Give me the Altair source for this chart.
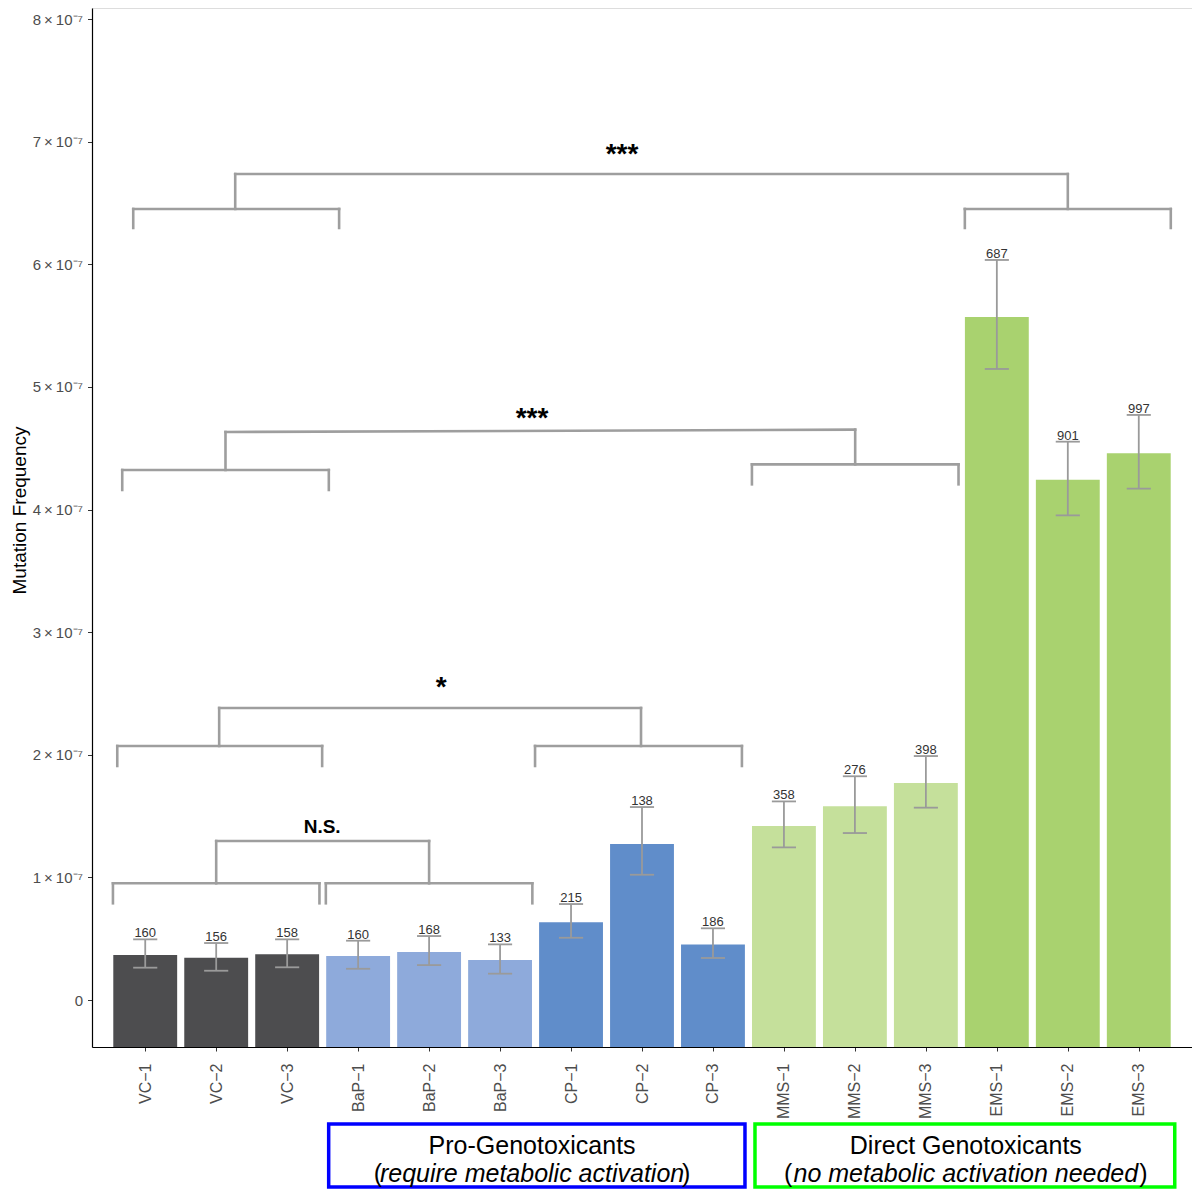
import altair as alt
import pandas as pd

# ---------------- data (mutation frequency in units of 1e-7) ----------------
labels = ["VC−1", "VC−2", "VC−3", "BaP−1", "BaP−2", "BaP−3", "CP−1", "CP−2", "CP−3",
          "MMS−1", "MMS−2", "MMS−3", "EMS−1", "EMS−2", "EMS−3"]
groups = ["VC"] * 3 + ["BaP"] * 3 + ["CP"] * 3 + ["MMS"] * 3 + ["EMS"] * 3
freq = [0.367, 0.345, 0.373, 0.359, 0.392, 0.326, 0.634, 1.272, 0.454,
        1.419, 1.580, 1.770, 5.571, 4.244, 4.459]
err_hi = [0.495, 0.465, 0.495, 0.484, 0.522, 0.454, 0.783, 1.574, 0.585,
          1.620, 1.825, 1.990, 6.036, 4.554, 4.772]
err_lo = [0.264, 0.239, 0.267, 0.255, 0.285, 0.215, 0.508, 1.022, 0.343,
          1.245, 1.362, 1.569, 5.147, 3.953, 4.171]
counts = [160, 156, 158, 160, 168, 133, 215, 138, 186, 358, 276, 398, 687, 901, 997]

group_order = ["VC", "BaP", "CP", "MMS", "EMS"]
group_colors = ["#4d4d4f", "#8eaadb", "#608dca", "#c5e09b", "#a9d26f"]

y_ticks = [0, 1, 2, 3, 4, 5, 6, 7, 8]

# significance brackets: label, label x, label baseline y, font size,
# left arm (x1, x2, stem x, bar y, leg y, top y), right arm (same)
comparisons = [
    ("N.S.", 3.493, 1.362, 19, (0.545, 3.455, 2.000, 0.952, 0.789, 1.297),
     (3.545, 6.455, 5.000, 0.952, 0.789, 1.297)),
    ("*", 5.169, 2.480, 28, (0.606, 3.493, 2.042, 2.072, 1.909, 2.382),
     (6.493, 9.408, 7.986, 2.072, 1.909, 2.382)),
    ("***", 6.451, 4.673, 28, (0.676, 3.587, 2.131, 4.323, 4.160, 4.633),
     (9.549, 12.460, 11.004, 4.369, 4.206, 4.652)),
    ("***", 7.718, 6.825, 28, (0.831, 3.732, 2.268, 6.452, 6.297, 6.737),
     (12.549, 15.451, 14.000, 6.452, 6.297, 6.737)),
]

# category boxes below the axis: x1, x2, colour, title, italic subtitle, text centre, italic width
boxes = [
    (3.585, 9.451, "#0000ff", "Pro-Genotoxicants", "require metabolic activation", 6.451, 298),
    (9.592, 15.507, "#00ff00", "Direct Genotoxicants", "no metabolic activation needed", 12.563, 345),
]
box_y_top, box_y_bot = -1.011, -1.525
box_line1_y, box_line2_y = -1.191, -1.419

SCALE = 1e-7
Y_MIN, Y_MAX = -0.383, 8.091
FONT = "Liberation Sans"

# ---------------- tables ----------------
df = pd.DataFrame({
    "idx": list(range(1, len(labels) + 1)),
    "label": labels,
    "group": groups,
    "freq": [v * SCALE for v in freq],
    "hi": [v * SCALE for v in err_hi],
    "lo": [v * SCALE for v in err_lo],
    "n": counts,
})

segs = []
for _, _, _, _, L, R in comparisons:
    for (x1, x2, xs, yb, yl, yt) in (L, R):
        segs.append((x1, x2, yb, yb))
        segs.append((x1, x1, yb, yl))
        segs.append((x2, x2, yb, yl))
        segs.append((xs, xs, yb, yt))
    segs.append((L[2], R[2], L[5], R[5]))
seg_df = pd.DataFrame(segs, columns=["x", "x2", "y", "y2"])
seg_df["y"] *= SCALE
seg_df["y2"] *= SCALE

sig_df = pd.DataFrame({
    "text": [c[0] for c in comparisons],
    "x": [c[1] for c in comparisons],
    "y": [c[2] * SCALE for c in comparisons],
    "fs": [c[3] for c in comparisons],
})

box_df = pd.DataFrame({
    "x": [b[0] for b in boxes],
    "x2": [b[1] for b in boxes],
    "col": [b[2] for b in boxes],
    "t1": [b[3] for b in boxes],
    "t2": [b[4] for b in boxes],
    "cx": [b[5] for b in boxes],
    "y": [box_y_top * SCALE] * 2,
    "y2": [box_y_bot * SCALE] * 2,
    "l1": [box_line1_y * SCALE] * 2,
    "l2": [box_line2_y * SCALE] * 2,
})

# ---------------- scales / axes ----------------
label_js = "[" + ",".join("'" + s + "'" for s in labels) + "]"
x_scale = alt.Scale(domain=[0.25, 15.75], nice=False, zero=False)
y_scale = alt.Scale(domain=[Y_MIN * SCALE, Y_MAX * SCALE], nice=False, zero=False)

x_axis = alt.Axis(
    values=list(range(1, len(labels) + 1)),
    labelExpr=label_js + "[datum.value - 1]",
    labelAngle=-90, labelFontSize=16, labelColor="#4d4d4d", labelPadding=12,
    tickSize=4, tickColor="#333333", domainColor="#000000", domainWidth=1.2,
    grid=False, title=None, labelFont=FONT,
)
y_axis = alt.Axis(
    values=[v * SCALE for v in y_ticks],
    labelExpr="datum.value == 0 ? '0' : round(datum.value * 1e7) + '\u2009×\u200910⁻⁷'",
    labelFontSize=15, labelColor="#4d4d4d", labelPadding=5, labelFont=FONT,
    tickSize=4.5, tickColor="#333333", domainColor="#000000", domainWidth=1.2,
    grid=False, title="Mutation Frequency", titleFontSize=19, titleFontWeight="normal",
    titleColor="#000000", titleFont=FONT, titleX=-73, titleY=502, titleBaseline="middle",
)

base = alt.Chart(df)

bars = base.mark_rect().transform_calculate(
    x1="datum.idx - 0.45", x2="datum.idx + 0.45"
).encode(
    x=alt.X("x1:Q", scale=x_scale, axis=x_axis),
    x2="x2:Q",
    y=alt.Y("freq:Q", scale=y_scale, axis=y_axis),
    y2=alt.datum(Y_MIN * SCALE),
    color=alt.Color("group:N", scale=alt.Scale(domain=group_order, range=group_colors), legend=None),
)

ERR = "#9a9a9a"
err_v = base.mark_rule(color=ERR, strokeWidth=1.8).encode(
    x="idx:Q", y="lo:Q", y2="hi:Q")
cap_hi = base.mark_rule(color=ERR, strokeWidth=1.8).transform_calculate(
    c1="datum.idx - 0.17", c2="datum.idx + 0.17"
).encode(x="c1:Q", x2="c2:Q", y="hi:Q")
cap_lo = base.mark_rule(color=ERR, strokeWidth=1.8).transform_calculate(
    c1="datum.idx - 0.17", c2="datum.idx + 0.17"
).encode(x="c1:Q", x2="c2:Q", y="lo:Q")
n_text = base.mark_text(fontSize=13, color="#333333", baseline="alphabetic", dy=-2, font=FONT).encode(
    x="idx:Q", y="hi:Q", text="n:Q")

brackets = alt.Chart(seg_df).mark_rule(color="#9e9e9e", strokeWidth=2.6, strokeCap="square").encode(
    x="x:Q", x2="x2:Q", y="y:Q", y2="y2:Q")
sig = alt.Chart(sig_df).mark_text(fontWeight="bold", color="#000000", baseline="alphabetic", font=FONT).encode(
    x="x:Q", y="y:Q", text="text:N", size=alt.Size("fs:Q", scale=None))

bx = alt.Chart(box_df)
box_rect = bx.mark_rect(fillOpacity=0, strokeWidth=3.5).encode(
    x="x:Q", x2="x2:Q", y="y:Q", y2="y2:Q", stroke=alt.Stroke("col:N", scale=None))
box_t1 = bx.mark_text(fontSize=25, color="#000000", baseline="middle", font=FONT).encode(
    x="cx:Q", y="l1:Q", text="t1:N")
box_t2 = bx.mark_text(fontSize=25, color="#000000", baseline="middle", fontStyle="italic", font=FONT).encode(
    x="cx:Q", y="l2:Q", text="t2:N")

paren_layers = []
for i, b in enumerate(boxes):
    half = b[6] / 2 + 1
    one = bx.transform_filter(f"datum.t1 == '{b[3]}'")
    paren_layers.append(one.mark_text(fontSize=25, color="#000000", baseline="middle", align="right",
                                      dx=-half, font=FONT).encode(x="cx:Q", y="l2:Q", text=alt.value("(")))
    paren_layers.append(one.mark_text(fontSize=25, color="#000000", baseline="middle", align="left",
                                      dx=half, font=FONT).encode(x="cx:Q", y="l2:Q", text=alt.value(")")))

chart = alt.layer(
    bars, err_v, cap_hi, cap_lo, n_text, brackets, sig, box_rect, box_t1, box_t2, *paren_layers
).properties(
    width=1100, height=1039,
    padding={"left": 84, "top": 0, "right": 0, "bottom": 143},
    autosize=alt.AutoSizeParams(type="none"),
).configure_view(strokeWidth=0).configure(font=FONT)

chart.save("out.html", embed_options={"renderer": "svg", "actions": False})
